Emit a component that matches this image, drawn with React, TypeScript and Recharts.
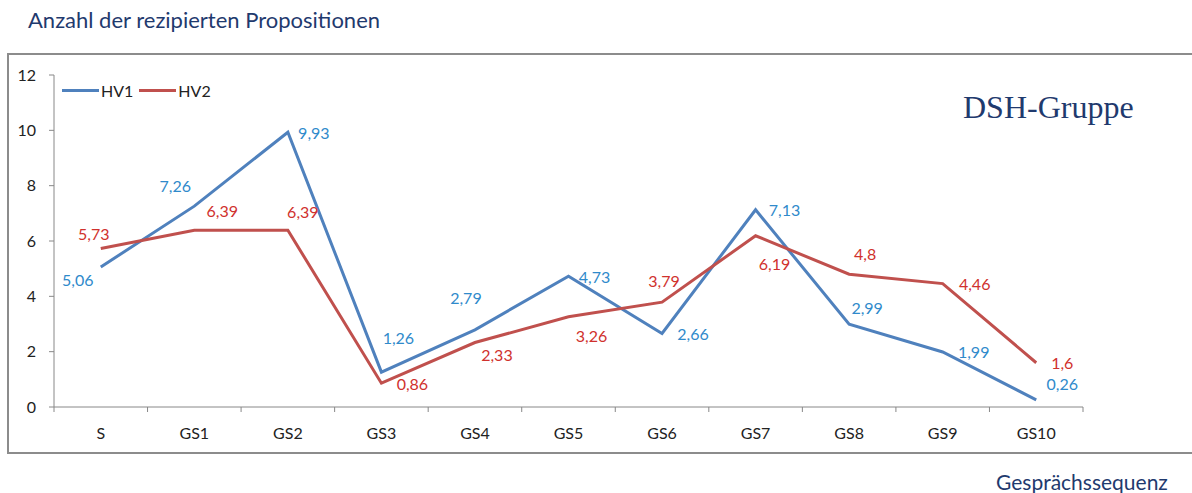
import React from 'react';
import { LineChart, Line, XAxis, YAxis } from 'recharts';

const categories = ['S', 'GS1', 'GS2', 'GS3', 'GS4', 'GS5', 'GS6', 'GS7', 'GS8', 'GS9', 'GS10'];
const hv1 = [5.06, 7.26, 9.93, 1.26, 2.79, 4.73, 2.66, 7.13, 2.99, 1.99, 0.26];
const hv2 = [5.73, 6.39, 6.39, 0.86, 2.33, 3.26, 3.79, 6.19, 4.8, 4.46, 1.6];
const yTicks = [0, 2, 4, 6, 8, 10, 12];

// label placement (dx, dy) relative to each point
const hv1LabelOffsets = [[-23, 12], [-19, -21], [26, 0], [17, -35], [-9, -32], [26, 0], [31, 0], [29, 0], [18, -17], [31, 0], [26, -16]];
const hv2LabelOffsets = [[-7, -15], [28, -20], [15, -19], [31, 0], [22, 12], [23, 19], [2, -22], [19, 28], [16, -21], [32, 0], [26, 0]];

const data = categories.map((c, i) => ({ cat: c, HV1: hv1[i], HV2: hv2[i] }));

const W = 1192;
const H = 493;
const MARGIN = { top: 75, right: 109, bottom: 56, left: 14 };
const Y_W = 40;
const PLOT_W = W - MARGIN.left - MARGIN.right - Y_W;
const STEP = PLOT_W / categories.length;
const FONT = 'Lato, "Open Sans", sans-serif';
const AXIS = '#888888';
const BLUE = '#4F81BD';
const RED = '#C0504D';
const BLUE_T = '#2F8ACB';
const RED_T = '#D0312D';
const NAVY = '#1F3A6E';

const fmt = (v: number) => String(v).replace('.', ',');

const XTick = (props: any) => {
  const { x, y, payload, index } = props;
  return (
    <g>
      <line x1={x - STEP / 2} x2={x - STEP / 2} y1={y} y2={y + 5} stroke={AXIS} />
      {index === categories.length - 1 && (
        <line x1={x + STEP / 2} x2={x + STEP / 2} y1={y} y2={y + 5} stroke={AXIS} />
      )}
      <text x={x} y={y + 25} textAnchor="middle" dominantBaseline="central" fontSize={16} fontFamily={FONT} fill="#222">
        {payload.value}
      </text>
    </g>
  );
};

const makeLabel = (offsets: number[][], color: string) => (props: any) => {
  const { x, y, value, index } = props;
  const o = offsets[index] || [0, 0];
  return (
    <text key={index} x={x + o[0]} y={y + o[1]} textAnchor="middle" dominantBaseline="central" fontSize={16} fontFamily={FONT} fill={color}>
      {fmt(value)}
    </text>
  );
};

export default function App() {
  return (
    <div style={{ position: 'absolute', left: 0, top: 0, width: W, height: H, overflow: 'hidden', background: '#fff', fontFamily: FONT }}>
      <div style={{ position: 'absolute', left: 28, top: 6, fontSize: 22, color: NAVY, whiteSpace: 'nowrap' }}>
        Anzahl der rezipierten Propositionen
      </div>
      <div style={{ position: 'absolute', left: 7, top: 53, width: 1200, height: 397, border: '2px solid #8C8C8C' }} />
      <div style={{ position: 'absolute', left: 963, top: 89, fontSize: 32, color: NAVY, fontFamily: '"Liberation Serif", "DejaVu Serif", serif', whiteSpace: 'nowrap' }}>
        DSH-Gruppe
      </div>
      <div style={{ position: 'absolute', left: 996, top: 472, fontSize: 21, lineHeight: '20px', color: NAVY, whiteSpace: 'nowrap' }}>
        Gesprächssequenz
      </div>
      <div style={{ position: 'absolute', left: 62, top: 81, display: 'flex', alignItems: 'center', fontSize: 16, color: '#222', whiteSpace: 'nowrap' }}>
        <span style={{ display: 'inline-block', width: 37, height: 3, background: BLUE }} />
        <span style={{ marginLeft: 2, marginRight: 6 }}>HV1</span>
        <span style={{ display: 'inline-block', width: 37, height: 3, background: RED }} />
        <span style={{ marginLeft: 2 }}>HV2</span>
      </div>
      <div style={{ position: 'absolute', left: 0, top: 0 }}>
        <LineChart width={W} height={H} data={data} margin={MARGIN}>
          <XAxis
            dataKey="cat"
            height={30}
            padding={{ left: STEP / 2, right: STEP / 2 }}
            tickLine={false}
            tickSize={0}
            tickMargin={0}
            axisLine={{ stroke: AXIS }}
            tick={<XTick />}
            interval={0}
          />
          <YAxis
            width={Y_W}
            domain={[0, 12]}
            ticks={yTicks}
            tickSize={5}
            tickMargin={13}
            axisLine={{ stroke: AXIS }}
            tickLine={{ stroke: AXIS }}
            tick={{ fontSize: 16, fontFamily: FONT, fill: '#222' }}
          />
          <Line
            type="linear"
            dataKey="HV1"
            stroke={BLUE}
            strokeWidth={3}
            dot={false}
            isAnimationActive={false}
            label={makeLabel(hv1LabelOffsets, BLUE_T)}
          />
          <Line
            type="linear"
            dataKey="HV2"
            stroke={RED}
            strokeWidth={3}
            dot={false}
            isAnimationActive={false}
            label={makeLabel(hv2LabelOffsets, RED_T)}
          />
        </LineChart>
      </div>
    </div>
  );
}
